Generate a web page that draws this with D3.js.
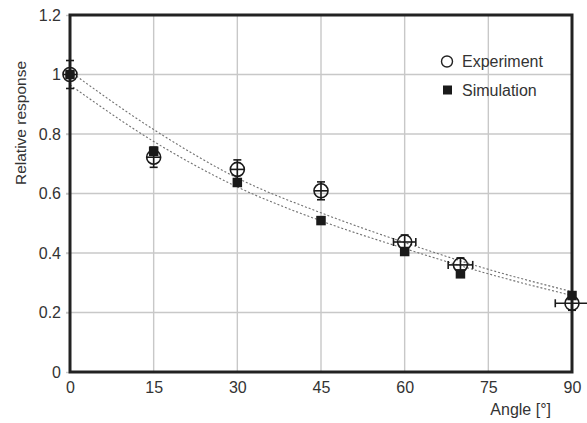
<!DOCTYPE html>
<html>
<head>
<meta charset="utf-8">
<script src="https://cdn.jsdelivr.net/npm/d3@7"></script>
<style>
  html, body { margin: 0; padding: 0; background: #fff; }
  svg { display: block; font-family: "Liberation Sans", Arial, Helvetica, sans-serif; }
</style>
</head>
<body>
<svg id="chart" width="587" height="423"></svg>
<script>
// ---- data ----
const angles = [0, 15, 30, 45, 60, 70, 90];
const experiment = [1.0, 0.722, 0.681, 0.609, 0.437, 0.36, 0.231];
const expErrY = [0.047, 0.034, 0.032, 0.03, 0.015, 0.015, 0.012];
const expErrX = [0, 0, 0, 0, 2, 2.2, 3];
const simulation = [1.0, 0.742, 0.637, 0.509, 0.405, 0.33, 0.257];

const fitAngles = [0, 15, 30, 45, 60, 75, 90];
const fitUpper = [1.01, 0.815, 0.652, 0.535, 0.435, 0.345, 0.27];
const fitLower = [0.965, 0.775, 0.622, 0.508, 0.415, 0.33, 0.257];

const xTicks = [0, 15, 30, 45, 60, 75, 90];
const yTicks = [0, 0.2, 0.4, 0.6, 0.8, 1, 1.2];
const xLabel = "Angle [°]";
const yLabel = "Relative response";
const legendLabels = ["Experiment", "Simulation"];

// ---- layout ----
const svg = d3.select("#chart");
const L = 70, R = 572, T = 15, B = 372;
const x = d3.scaleLinear().domain([0, 90]).range([L, R]);
const y = d3.scaleLinear().domain([0, 1.2]).range([B, T]);

// grid
const grid = svg.append("g");
grid.selectAll("line.gx").data(xTicks.filter(d => d > 0 && d < 90)).join("line")
  .attr("x1", d => x(d)).attr("x2", d => x(d)).attr("y1", T).attr("y2", B)
  .attr("stroke", "#c8c8c8").attr("stroke-width", 1.4);
grid.selectAll("line.gy").data(yTicks.filter(d => d > 0 && d < 1.2)).join("line")
  .attr("x1", L - 4).attr("x2", R).attr("y1", d => y(d)).attr("y2", d => y(d))
  .attr("stroke", "#c8c8c8").attr("stroke-width", 1.4);

// axes tick labels via d3 axes
const fmt = d => (d === 0 || d === 1) ? String(d) : d3.format(".1f")(d);
const yAxis = svg.append("g").attr("transform", `translate(${L},0)`)
  .call(d3.axisLeft(y).tickValues(yTicks).tickFormat(fmt).tickSize(4).tickPadding(5));
const xAxis = svg.append("g").attr("transform", `translate(0,${B})`)
  .call(d3.axisBottom(x).tickValues(xTicks).tickSize(0).tickPadding(10));
[yAxis, xAxis].forEach(a => {
  a.select(".domain").remove();
  a.selectAll(".tick line").attr("stroke", "#c8c8c8").attr("stroke-width", 1.4);
  a.selectAll("text").attr("font-size", 16).attr("fill", "#333")
    .attr("font-family", "Liberation Sans, Arial, sans-serif");
});
xAxis.selectAll(".tick line").remove();

// fit curves
const line = d3.line().x(d => x(d[0])).y(d => y(d[1])).curve(d3.curveMonotoneX);
[fitUpper, fitLower].forEach(arr => {
  svg.append("path")
    .attr("d", line(fitAngles.map((a, i) => [a, arr[i]])))
    .attr("fill", "none").attr("stroke", "#707070").attr("stroke-width", 1.1)
    .attr("stroke-dasharray", "2,2");
});

// frame
svg.append("rect").attr("x", L).attr("y", T).attr("width", R - L).attr("height", B - T)
  .attr("fill", "none").attr("stroke", "#222").attr("stroke-width", 3);

// experiment circles
const expData = angles.map((a, i) => ({a, v: experiment[i], ey: expErrY[i], ex: expErrX[i]}));
const eg = svg.append("g");
eg.selectAll("circle").data(expData).join("circle")
  .attr("cx", d => x(d.a)).attr("cy", d => y(d.v)).attr("r", 7)
  .attr("fill", "none").attr("stroke", "#1a1a1a").attr("stroke-width", 1.6);
// error bars (crosshair + caps)
expData.forEach(d => {
  const cx = x(d.a), cy = y(d.v);
  const y1 = y(d.v + d.ey), y2 = y(d.v - d.ey);
  const x1 = x(d.a - d.ex), x2 = x(d.a + d.ex);
  const g = eg.append("g").attr("stroke", "#1a1a1a").attr("stroke-width", 1.6);
  const top = Math.min(y1, cy - 7), bot = Math.max(y2, cy + 7);
  g.append("line").attr("x1", cx).attr("x2", cx).attr("y1", top).attr("y2", bot);
  g.append("line").attr("x1", cx - 4).attr("x2", cx + 4).attr("y1", top).attr("y2", top);
  g.append("line").attr("x1", cx - 4).attr("x2", cx + 4).attr("y1", bot).attr("y2", bot);
  const lft = Math.min(x1, cx - 7), rgt = Math.max(x2, cx + 7);
  g.append("line").attr("x1", lft).attr("x2", rgt).attr("y1", cy).attr("y2", cy);
  if (d.ex > 0) {
    g.append("line").attr("x1", lft).attr("x2", lft).attr("y1", cy - 4).attr("y2", cy + 4);
    g.append("line").attr("x1", rgt).attr("x2", rgt).attr("y1", cy - 4).attr("y2", cy + 4);
  }
});

// simulation squares
const s = 9.5;
svg.append("g").selectAll("rect").data(angles.map((a, i) => ({a, v: simulation[i]}))).join("rect")
  .attr("x", d => x(d.a) - s / 2).attr("y", d => y(d.v) - s / 2)
  .attr("width", s).attr("height", s).attr("fill", "#1a1a1a");

// legend
const lg = svg.append("g");
lg.append("circle").attr("cx", 447).attr("cy", 61.5).attr("r", 5.5)
  .attr("fill", "none").attr("stroke", "#222").attr("stroke-width", 1.4);
lg.append("text").attr("x", 462).attr("y", 67).text(legendLabels[0])
  .attr("font-size", 16).attr("fill", "#333");
lg.append("rect").attr("x", 443).attr("y", 85.5).attr("width", 9).attr("height", 9).attr("fill", "#1a1a1a");
lg.append("text").attr("x", 462).attr("y", 96).text(legendLabels[1])
  .attr("font-size", 16).attr("fill", "#333");

// axis titles
svg.append("text").attr("x", 551).attr("y", 415).attr("text-anchor", "end")
  .attr("font-size", 16).attr("fill", "#333").text(xLabel);
svg.append("text").attr("transform", "translate(26,123) rotate(-90)")
  .attr("text-anchor", "middle").attr("font-size", 15.5).attr("fill", "#333").text(yLabel);
</script>
</body>
</html>
